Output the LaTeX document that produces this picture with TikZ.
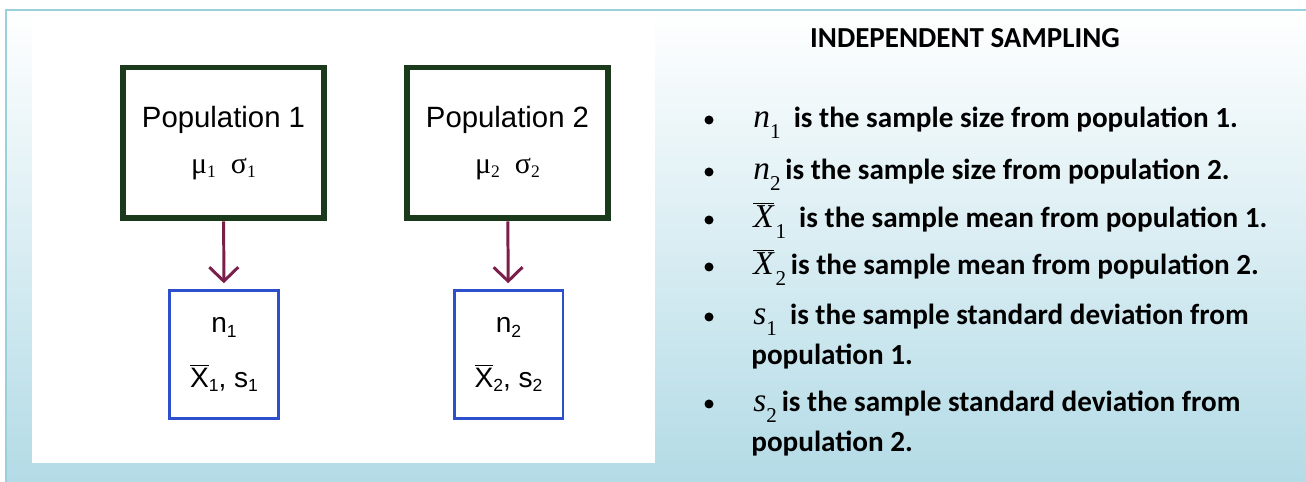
\documentclass[tikz,border=0pt]{standalone}
\usepackage{fontspec}
\setmainfont{Carlito}
\newfontfamily\arial{Liberation Sans}
\newfontfamily\tnr{Liberation Serif}
\usepackage{xcolor}
\usetikzlibrary{positioning, arrows.meta}

\definecolor{popgreen}{HTML}{1B3A1B}
\definecolor{smpblue}{HTML}{2E4FCC}
\definecolor{flowred}{HTML}{7A1F4B}
\definecolor{bgblue}{HTML}{B3DBE6}
\definecolor{rimblue}{HTML}{9ACFDE}

% subscript as the picture prints it
\newcommand{\lowsub}[2][10]{\raisebox{-0.3ex}{\fontsize{#1}{#1}\selectfont #2}}
\newcommand{\deepsub}[1]{\raisebox{-0.75ex}{\fontsize{12}{12}\selectfont #1}}
% italic symbol with subscript (right column)
\newcommand{\isym}[2]{{\normalfont\tnr\itshape\fontsize{19}{19}\selectfont #1}{\normalfont\tnr\deepsub{#2}}}
\newcommand{\ibar}[1]{{\normalfont$\overline{\mbox{\tnr\itshape\fontsize{19}{19}\selectfont X}}$}\kern1pt{\normalfont\tnr\deepsub{#1}}}

\begin{document}
\begin{tikzpicture}[x=0.02cm, y=-0.02cm,
    popbox/.style={draw=popgreen, line width=3.4pt, minimum width=4.02cm, minimum height=3.02cm,
        align=center, inner sep=0pt, font=\arial\fontsize{16.7}{24}\selectfont},
    smpbox/.style={draw=smpblue, line width=1.7pt, minimum width=2.18cm, minimum height=2.58cm,
        align=center, inner sep=0pt, font=\arial\fontsize{16}{31}\selectfont},
    flow/.style={draw=flowred, line width=1.7pt, -{Straight Barb[length=2.8mm, width=5.8mm]}, shorten >=3pt},
    dot/.style={circle, fill=black, minimum size=0.18cm, inner sep=0pt},
    item/.style={anchor=base west, font=\bfseries\fontsize{16.6}{23}\selectfont, inner sep=0pt},
]
\useasboundingbox (0,0) rectangle (1306,482);

% Background
\shade[top color=white, bottom color=bgblue] (6,10) rectangle (1306,482);
\draw[rimblue, line width=1.2pt] (6,482) -- (6,10) -- (1306,10);
\fill[white] (32,12) rectangle (655,463);

% Populations
\node[popbox] (pop1) at (223.5,143) {Population 1\\[2pt]
    {\tnr\fontsize{17}{17}\selectfont μ\lowsub{1}\ \ σ\lowsub{1}}};
\node[popbox] (pop2) at (507.5,143) {Population 2\\[2pt]
    {\tnr\fontsize{17}{17}\selectfont μ\lowsub{2}\ \ σ\lowsub{2}}};

% Samples
\node[smpbox] (smp1) at (224,354.5) {n\lowsub{1}\\ $\overline{\mbox{\arial X}}$\lowsub{1}, s\lowsub{1}};
\node[smpbox] (smp2) at (508.5,354.5) {n\lowsub{2}\\ $\overline{\mbox{\arial X}}$\lowsub{2}, s\lowsub{2}};

% Sampling arrows
\draw[flow] (pop1) -- (smp1);
\draw[flow] (pop2) -- (smp2);

% Legend
\node[anchor=base, font=\bfseries\fontsize{16.5}{20}\selectfont, inner sep=0pt] (title) at (965,48) {INDEPENDENT SAMPLING};

\node[dot] (d1) at (709,120) {};
\node[item] (t1) at (753,128) {\isym{n}{1}\ \ is the sample size from population 1.};
\node[dot] (d2) at (709,172) {};
\node[item] (t2) at (753,180) {\isym{n}{2}\,is the sample size from population 2.};
\node[dot] (d3) at (709,220) {};
\node[item] (t3) at (753,228) {\ibar{1}\ \ is the sample mean from population 1.};
\node[dot] (d4) at (709,267) {};
\node[item] (t4) at (753,275) {\ibar{2}\,is the sample mean from population 2.};
\node[dot] (d5) at (709,317) {};
\node[item] (t5) at (753,325) {\isym{s}{1}\ \ is the sample standard deviation from};
\node[item] (t5b) at (751,365) {population 1.};
\node[dot] (d6) at (709,404) {};
\node[item] (t6) at (753,412) {\isym{s}{2}\,is the sample standard deviation from};
\node[item] (t6b) at (751,452) {population 2.};
\end{tikzpicture}
\end{document}
